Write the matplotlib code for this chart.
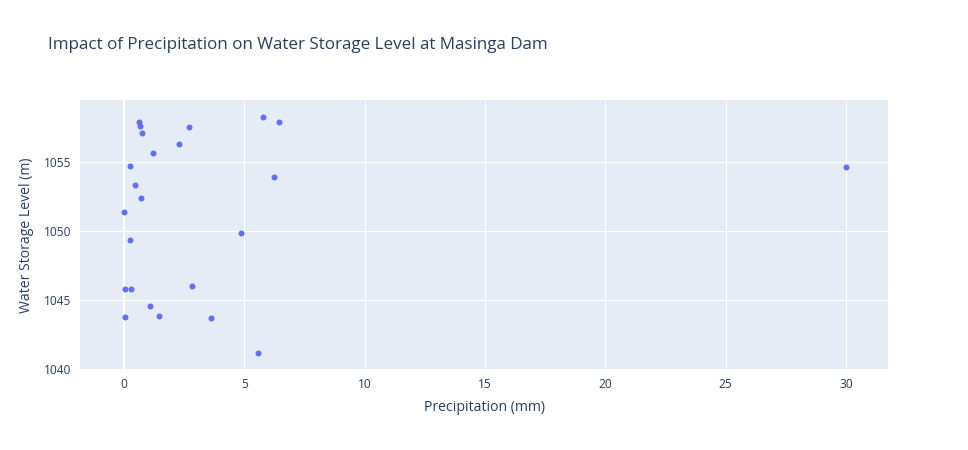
import matplotlib
matplotlib.use('Agg')
import matplotlib.pyplot as plt

plt.rcParams['font.family'] = ['Open Sans', 'DejaVu Sans']

# values
precip_mm = [0.64, 0.66, 0.76, 2.70, 2.29, 1.19, 5.79, 6.46, 0.25, 6.22,
             0.46, 0.69, 0.0, 4.86, 0.26, 0.04, 0.28, 2.81, 1.06, 0.05,
             1.47, 3.60, 5.58, 30.0]
storage_m = [1057.88, 1057.6, 1057.06, 1057.5, 1056.26, 1055.6, 1058.24, 1057.9,
             1054.71, 1053.9, 1053.31, 1052.35, 1051.33, 1049.8, 1049.31, 1045.8,
             1045.77, 1045.99, 1044.55, 1043.72, 1043.8, 1043.65, 1041.15, 1054.6]
x_ticks = [0, 5, 10, 15, 20, 25, 30]
y_ticks = [1040, 1045, 1050, 1055]

text_col = '#2a3f5f'
px = 0.72  # points per pixel at dpi 100

fig = plt.figure(figsize=(9.68, 4.5), dpi=100)
ax = fig.add_axes([80 / 968, 1 - 370 / 450, 808 / 968, 270 / 450])
ax.set_facecolor('#E5ECF6')

ax.scatter(precip_mm, storage_m, s=(6 * px) ** 2, color='#636EFA',
           linewidths=0, zorder=3)

ax.set_xlim(-1.83, 31.75)
ax.set_ylim(1039.9, 1059.47)
ax.set_xticks(x_ticks)
ax.set_yticks(y_ticks)
ax.grid(True, color='white', linewidth=1 * px, zorder=0)
ax.axvline(0, color='white', linewidth=2 * px, zorder=1)
ax.set_axisbelow(True)
for s in ax.spines.values():
    s.set_visible(False)
ax.tick_params(length=0, labelsize=12 * px, labelcolor=text_col, pad=6)

ax.set_xlabel('Precipitation (mm)', fontsize=14 * px, color=text_col, labelpad=6)
ax.set_ylabel('Water Storage Level (m)', fontsize=14 * px, color=text_col, labelpad=7)

fig.text(48 / 968, 1 - 45 / 450, 'Impact of Precipitation on Water Storage Level at Masinga Dam',
         fontsize=17 * px, color=text_col, ha='left', va='center')

fig.savefig('out.png', dpi=100, facecolor='white')
